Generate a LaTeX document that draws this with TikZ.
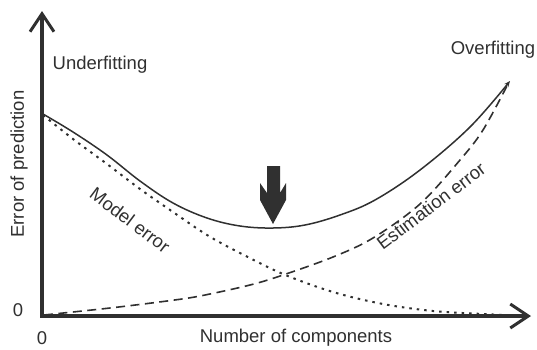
\documentclass[tikz,border=0pt]{standalone}
\usepackage{fontspec}
\setmainfont{Liberation Sans}
\usetikzlibrary{arrows.meta}
\definecolor{ink}{HTML}{303030}
\tikzset{
  lbl/.style={inner sep=0pt, text=ink, font=\fontsize{18.5}{22}\selectfont},
  axisline/.style={draw=ink, line width=3.6pt, line join=miter},
  totalcurve/.style={draw=ink, line width=1.5pt},
  estcurve/.style={draw=ink, line width=1.6pt, dash pattern=on 9pt off 5.5pt},
  modelcurve/.style={draw=ink, line width=2pt, dash pattern=on 2.5pt off 5pt},
  bigarrow/.style={fill=ink, draw=none}
}
\begin{document}
\begin{tikzpicture}[x=1pt,y=-1pt]
\useasboundingbox (0,0) rectangle (537,349);
% axes
\coordinate (ytop) at (42,11);
\coordinate (O) at (42,316);
\coordinate (xend) at (531,316);
\draw[axisline, {Straight Barb[length=18pt,width=24pt,line width=3pt]}-{Straight Barb[length=18pt,width=24pt,line width=3pt]}] (ytop) -- (O) -- (xend);
% curves
\draw[modelcurve] plot[smooth, tension=0.55] coordinates {(43,115) (73,139) (107,164) (140,189) (173,212) (207,235) (240,253) (283,274) (333,292) (383,304) (433,311) (483,314) (505,315)};
\draw[estcurve] plot[smooth, tension=0.55] coordinates {(44,315) (110,308) (167,301) (200,296) (250,285) (283,275) (333,257) (373,238) (420,204) (460,160) (483,130) (508,84)};
\draw[totalcurve, -{Stealth[length=6pt,width=5pt]}] plot[smooth, tension=0.6] coordinates {(43,114) (73,132) (107,155) (140,181) (173,203) (207,218) (240,226) (273,228) (305,225) (340,215) (375,200) (420,170) (470,127) (510,81)};
% downward arrow
\fill[bigarrow] (267,166) -- (280,166) -- (280,193) -- (286,183) -- (286,200) -- (273,224) -- (260,200) -- (260,183) -- (267,193) -- cycle;
% labels
\node[lbl] (under) at (100,65) {Underfitting};
\node[lbl] (over) at (493,50) {Overfitting};
\node[lbl, rotate=90] (ylab) at (19,164) {Error of prediction};
\node[lbl] (yzero) at (18,310) {0};
\node[lbl] (xzero) at (42,338) {0};
\node[lbl] (xlab) at (296,338) {Number of components};
\node[lbl, rotate=-37] (model) at (130,220) {Model error};
\node[lbl, rotate=37] (est) at (431,206) {Estimation error};
\end{tikzpicture}
\end{document}
